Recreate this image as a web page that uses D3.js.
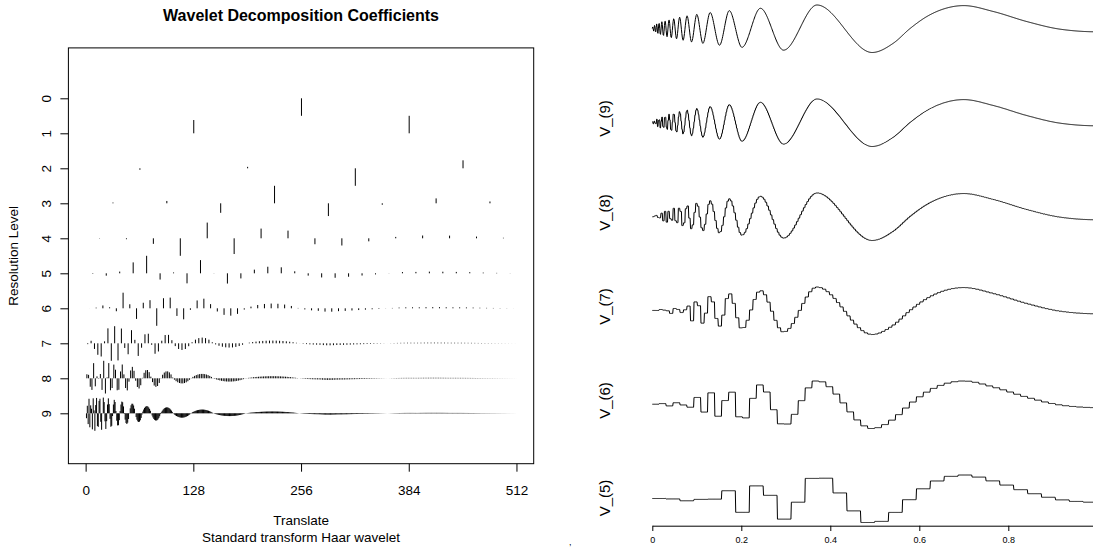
<!DOCTYPE html>
<html><head><meta charset="utf-8">
<script src="https://cdn.jsdelivr.net/npm/d3@7"></script>
<style>
body{margin:0;background:#fff}
svg{display:block}
text{font-family:"Liberation Sans",Arial,Helvetica,sans-serif;fill:#000}
</style>
</head><body>
<svg id="c" width="1093" height="549"></svg>
<script>
// ---- data ----
const levelLabels = [0,1,2,3,4,5,6,7,8,9];
const translateTicks = [0,128,256,384,512];
const positionTicks = [0,0.2,0.4,0.6,0.8];
const rowLevels = [10,9,8,7,6,5];
const rowLabels = ["","V_(9)","V_(8)","V_(7)","V_(6)","V_(5)"];
// signal: read points (peaks, troughs and a few shoulder points) of the top curve
const signalX = [0,0.0011,0.0030,0.0052,0.0074,0.0099,0.0124,0.0152,0.0182,0.0215,0.0250,0.0288,0.0330,0.0376,0.0426,0.0482,0.0544,0.0614,0.0692,0.0781,0.0882,0.1000,0.1137,0.1300,0.1510,0.1730,0.2015,0.2430,0.2950,0.3700,0.4940,0.5420,0.5800,0.6170,0.6550,0.7000,0.7670,0.8420,0.9170,1.0000];
const signalY = [0,0.034,-0.055,0.072,-0.086,0.099,-0.110,0.122,-0.133,0.144,-0.156,0.166,-0.176,0.187,-0.198,0.210,-0.220,0.240,-0.250,0.270,-0.285,0.300,-0.315,0.340,-0.355,0.380,-0.400,0.430,-0.460,0.500,-0.510,-0.310,0.006,0.255,0.417,0.487,0.360,0.147,-0.015,-0.070];

// ---- build the sampled signal (monotone cubic through read points) ----
function steffen(xs, ys){
  const n=xs.length,h=[],s=[],m=new Array(n);
  for(let i=0;i<n-1;i++){h[i]=xs[i+1]-xs[i];s[i]=(ys[i+1]-ys[i])/h[i];}
  m[0]=s[0]; m[n-1]=0;
  for(let i=1;i<n-1;i++){
    const p=(s[i-1]*h[i]+s[i]*h[i-1])/(h[i-1]+h[i]);
    m[i]=(Math.sign(s[i-1])+Math.sign(s[i]))*Math.min(Math.abs(s[i-1]),Math.abs(s[i]),0.5*Math.abs(p));
  }
  return t=>{
    let i=d3.bisectRight(xs,t)-1; if(i<0)i=0; if(i>n-2)i=n-2;
    const u=(t-xs[i])/h[i],u2=u*u,u3=u2*u;
    return (2*u3-3*u2+1)*ys[i]+(u3-2*u2+u)*h[i]*m[i]+(-2*u3+3*u2)*ys[i+1]+(u3-u2)*h[i]*m[i+1];
  };
}
const N=1024;
const fs=steffen(signalX,signalY);
const signal=d3.range(N).map(i=>fs(i/N));

// ---- Haar decomposition ----
const C={},D={};
C[10]=signal;
let cur=signal;
for(let j=9;j>=0;j--){
  const n=1<<j,c=new Array(n),d=new Array(n);
  for(let k=0;k<n;k++){c[k]=(cur[2*k]+cur[2*k+1])/Math.SQRT2;d[k]=(cur[2*k]-cur[2*k+1])/Math.SQRT2;}
  C[j]=c;D[j]=d;cur=c;
}
const P={};P[9]=d3.range(512).map(k=>k+1);
for(let j=8;j>=0;j--)P[j]=d3.range(1<<j).map(k=>(P[j+1][2*k]+P[j+1][2*k+1])/2);

const svg=d3.select("#c");
const FF="Liberation Sans, Arial, sans-serif";

// ---- left panel ----
const L=68.4,R=533.7,T=47.9,B=463.7;
const x=d3.scaleLinear().domain([-20.48,532.48]).range([L,R]);
const y=d3.scaleLinear().domain([-0.44,11.44]).range([B,T]);

let path="";
for(let j=0;j<=9;j++){
  const d=D[j],mx=d3.max(d,v=>Math.abs(v))||1,h=10-j;
  for(let k=0;k<d.length;k++){
    const px=x(P[j][k]);
    path+=`M${px.toFixed(2)},${y(h).toFixed(2)}V${y(h+0.5*d[k]/mx).toFixed(2)}`;
  }
}
svg.append("path").attr("d",path).attr("stroke","#000").attr("stroke-width",1).attr("fill","none");
svg.append("rect").attr("x",L).attr("y",T).attr("width",R-L).attr("height",B-T)
  .attr("fill","none").attr("stroke","#000").attr("stroke-width",1);

const ax=svg.append("g").attr("transform",`translate(0,${B})`)
  .call(d3.axisBottom(x).tickValues(translateTicks).tickSize(8).tickSizeOuter(0).tickPadding(14).tickFormat(d3.format("d")));
ax.select(".domain").remove();
ax.selectAll("text").attr("font-size",13.5).attr("font-family",FF);

const ay=svg.append("g").attr("transform",`translate(${L},0)`)
  .call(d3.axisLeft(y).tickValues(levelLabels.map(l=>10-l)).tickSize(8).tickSizeOuter(0).tickFormat(h=>String(10-h)));
ay.select(".domain").remove();
ay.selectAll("text").attr("font-size",13.5).attr("font-family",FF)
  .attr("x",null).attr("dy",null).attr("text-anchor","middle")
  .attr("transform","translate(-17,0) rotate(-90)");

svg.append("text").attr("x",(L+R)/2).attr("y",20.8).attr("text-anchor","middle")
  .attr("font-size",16).attr("font-weight","bold").text("Wavelet Decomposition Coefficients");
svg.append("text").attr("x",(L+R)/2).attr("y",525).attr("text-anchor","middle").attr("font-size",13.5).text("Translate");
svg.append("text").attr("x",(L+R)/2).attr("y",542).attr("text-anchor","middle").attr("font-size",13.5).text("Standard transform Haar wavelet");
svg.append("text").attr("transform",`translate(18,${(T+B)/2}) rotate(-90)`).attr("text-anchor","middle")
  .attr("font-size",13.5).text("Resolution Level");

// ---- right panel: approximations ----
const xR=d3.scaleLinear().domain([0,1]).range([652.3,1097.3]);
rowLevels.forEach((lev,r)=>{
  let vals;
  if(lev===10)vals=signal;
  else{const sh=10-lev,blk=1<<sh,c=C[lev];vals=d3.range(N).map(i=>c[i>>sh]/Math.sqrt(blk));}
  const top=5+94*r,bot=52.5+94*r;
  const yr=d3.scaleLinear().domain(d3.extent(vals)).range([bot,top]);
  const line=d3.line().x((v,i)=>xR(i/N)).y(v=>yr(v));
  svg.append("path").attr("d",line(vals)).attr("fill","none").attr("stroke","#000").attr("stroke-width",1);
  if(rowLabels[r]){
    const cy=top+19.5+(r===5?3.5:0);
    svg.append("text").attr("transform",`translate(610.4,${cy}) rotate(-90)`).attr("text-anchor","middle")
      .attr("font-size",15).text(rowLabels[r]);
  }
});
const axR=svg.append("g").attr("transform","translate(0,525.7)")
  .call(d3.axisBottom(xR).tickValues(positionTicks.concat([1])).tickSize(5.3).tickSizeOuter(0).tickPadding(6)
    .tickFormat(d=>positionTicks.includes(d)?String(d):""));
axR.selectAll("text").attr("font-size",9).attr("font-family",FF);
svg.append("text").attr("x",569).attr("y",545).attr("font-size",9).text(",");
</script>
</body></html>
